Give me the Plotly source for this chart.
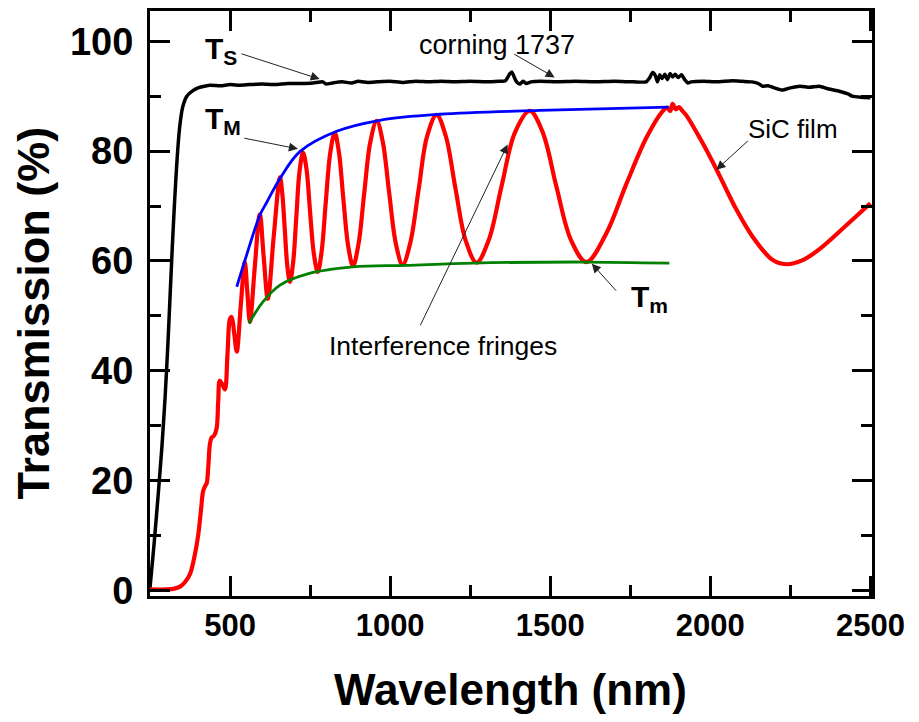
import plotly.graph_objects as go

# ---------------- data ----------------
glass_wl = [250, 262, 275, 287, 297, 306, 313, 320, 327, 334, 342, 352, 365, 384, 400, 420, 437,
            470, 500, 530, 560, 600, 640, 680, 720, 760, 790, 800, 820, 850, 880, 900, 930, 960, 1000,
            1040, 1080, 1120, 1160, 1200, 1250, 1300, 1340, 1360, 1373, 1380, 1388, 1395, 1405, 1415,
            1425, 1440, 1470, 1520, 1580, 1640, 1700, 1760, 1800, 1810, 1820, 1828, 1835, 1842, 1850,
            1858, 1866, 1874, 1882, 1890, 1900, 1910, 1920, 1930, 1940, 1980, 2020, 2069, 2100, 2130,
            2150, 2163, 2180, 2200, 2225, 2250, 2280, 2310, 2340, 2370, 2403, 2430, 2443, 2470, 2500]
glass_T = [0.5, 8, 17, 26, 35, 45, 54, 63, 71, 78, 84, 88, 90, 91, 91.5, 91.8, 92.0,
           91.9, 92.1, 92.0, 92.1, 92.2, 92.1, 92.3, 92.3, 92.4, 92.6, 92.2, 92.4, 92.6, 92.4, 92.7, 92.5, 92.6, 92.7,
           92.5, 92.7, 92.6, 92.7, 92.6, 92.7, 92.6, 92.7, 92.8, 94.0, 94.4, 93.4, 92.6, 92.2, 92.7,
           92.3, 92.6, 92.7, 92.6, 92.7, 92.6, 92.7, 92.6, 92.6, 93.3, 94.3, 93.8, 92.6, 93.9, 93.2,
           94.0, 93.0, 94.1, 93.5, 94.0, 93.4, 93.9, 93.0, 92.4, 92.6, 92.7, 92.6, 92.8, 92.7, 92.6,
           92.3, 91.8, 91.9, 91.5, 91.1, 91.5, 91.8, 91.6, 91.8, 91.3, 90.9, 90.4, 90.0, 89.8, 89.7]

film_wl = [250, 300, 323, 344, 359, 375, 390, 401, 409, 416, 422, 427, 432, 437, 442, 450, 458, 463, 468,
           476, 484, 492, 500, 505, 513, 521, 533, 546, 554, 562, 577, 593, 605, 618, 636, 656,
           663, 671, 679, 687, 697, 707, 717, 728, 739, 750, 762, 774, 786, 799, 813, 827, 840, 854,
           869, 884, 901, 919, 938, 958, 977, 997, 1018, 1039, 1063, 1089, 1115, 1145, 1174, 1204,
           1236, 1270, 1308, 1348, 1390, 1436, 1476, 1519, 1565, 1613, 1675, 1737, 1801,
           1850, 1865, 1875, 1882, 1892, 1902, 1913, 1925, 1966, 2019, 2045, 2081, 2131, 2194,
           2237, 2287, 2340, 2425, 2500]
film_T = [0.2, 0.2, 0.3, 0.7, 1.5, 3.0, 6.5, 10.3, 14.5, 18.1, 19.0, 19.5, 22.5, 26.6, 27.8, 28.2, 29.5, 34.4, 38.2,
          37.5, 36.6, 43, 49.5, 49.8, 46.8, 43.5, 51.5, 59.8, 54.3, 48.9, 58.7, 68.5, 60.8, 53.1, 64.2, 75.2,
          72.4, 65.7, 59.0, 56.2, 59.7, 68.0, 76.3, 79.7, 76.6, 68.9, 61.2, 58.0, 61.7, 70.7, 79.7, 83.3, 79.8, 71.2,
          62.7, 59.1, 63.0, 72.3, 81.6, 85.5, 81.7, 72.4, 63.1, 59.3, 63.3, 73.0, 82.6, 86.6, 82.7, 73.2,
          63.7, 59.7, 63.8, 73.6, 83.4, 87.3, 83.5, 73.6, 63.8, 59.8, 65.0, 73.9, 82.5,
          87.2, 87.9, 87.3, 88.6, 87.6, 88.0, 87.3, 86.5, 82.5, 76.7, 73.6, 69.4, 64.5, 60.2,
          59.4, 60.1, 62.1, 66.5, 70.5]

tmax_wl = [521, 546, 593, 615, 656, 718, 833, 968, 1155, 1467, 1870]
tmax_T = [55.3, 60.0, 68.3, 70.7, 75.0, 79.9, 83.6, 85.6, 86.7, 87.4, 88.0]

tmin_wl = [559, 602, 656, 740, 884, 1050, 1258, 1601, 1872]
tmin_T = [48.6, 52.5, 55.6, 57.6, 58.9, 59.2, 59.6, 59.8, 59.6]

x_ticks = [500, 1000, 1500, 2000, 2500]
y_ticks = [0, 20, 40, 60, 80, 100]

FONT = "Liberation Sans, Arial, sans-serif"

fig = go.Figure()
fig.add_trace(go.Scatter(x=glass_wl, y=glass_T, mode="lines",
                         line=dict(color="black", width=3.5, shape="spline", smoothing=0.5)))
fig.add_trace(go.Scatter(x=film_wl, y=film_T, mode="lines",
                         line=dict(color="#ff0000", width=4.2, shape="spline", smoothing=1)))
fig.add_trace(go.Scatter(x=tmax_wl, y=tmax_T, mode="lines",
                         line=dict(color="#0000ff", width=2.8, shape="spline", smoothing=1)))
fig.add_trace(go.Scatter(x=tmin_wl, y=tmin_T, mode="lines",
                         line=dict(color="#008000", width=2.8, shape="spline", smoothing=1)))

axis_common = dict(showline=True, linecolor="black", linewidth=3, mirror="ticks",
                   ticks="inside", ticklen=20, tickwidth=3, tickcolor="black",
                   showgrid=False, zeroline=False, layer="above traces")

fig.update_xaxes(range=[250, 2505], tickvals=x_ticks, ticktext=[str(v) for v in x_ticks],
                 tickfont=dict(family=FONT, size=31, color="black", weight="bold"),
                 minor=dict(ticks="inside", ticklen=11, tickwidth=3, tickcolor="black", dtick=250, tick0=250),
                 **axis_common)
fig.update_yaxes(range=[-1, 105.5], tickvals=y_ticks, ticktext=[str(v) for v in y_ticks],
                 tickfont=dict(family=FONT, size=38, color="black", weight="bold"),
                 ticklabelstandoff=6,
                 minor=dict(ticks="inside", ticklen=11, tickwidth=3, tickcolor="black", dtick=10, tick0=0),
                 **axis_common)

ann = []
# axis titles
ann.append(dict(text="<b>Wavelength (nm)</b>", xref="paper", yref="paper", x=(510 - 150) / 722, y=-(690 - 596) / 588,
                showarrow=False, xanchor="center", yanchor="middle",
                font=dict(family=FONT, size=44, color="black")))
ann.append(dict(text="<b>Transmission (%)</b>", xref="paper", yref="paper", x=-(150 - 33) / 722, y=(596 - 312) / 588,
                showarrow=False, xanchor="center", yanchor="middle", textangle=-90,
                font=dict(family=FONT, size=45, color="black")))

# labels
def label(text, x, y, size, bold=False):
    t = f"<b>{text}</b>" if bold else text
    ann.append(dict(text=t, x=x, y=y, xref="x", yref="y", showarrow=False,
                    xanchor="left", yanchor="middle", font=dict(family=FONT, size=size, color="black")))

label("T<sub>S</sub>", 414, 98.3, 30, bold=True)
label("T<sub>M</sub>", 414, 85.5, 30, bold=True)
label("T<sub>m</sub>", 1745, 53.2, 30, bold=True)
label("corning 1737", 1085, 99.3, 27)
label("SiC film", 2113, 84.0, 26)
label("Interference fringes", 802, 44.5, 26.5)

# arrows: (head_x, head_y, tail_x, tail_y)
def arrow(hx, hy, tx, ty):
    ann.append(dict(text="", x=hx, y=hy, ax=tx, ay=ty, xref="x", yref="y", axref="x", ayref="y",
                    showarrow=True, arrowhead=2, arrowsize=1.8, arrowwidth=1, arrowcolor="#222"))

arrow(780, 93.1, 531, 97.8)
arrow(1514, 93.4, 1383, 97.8)
arrow(712, 80.4, 540, 82.4)
arrow(2019, 76.6, 2122, 82.1)
arrow(1367, 81.2, 1092, 48.0)
arrow(1630, 59.5, 1710, 54.3)

fig.update_layout(width=919, height=722, margin=dict(l=150, r=47, t=8, b=126),
                  plot_bgcolor="white", paper_bgcolor="white", showlegend=False,
                  annotations=ann, font=dict(family=FONT))

fig.write_html("out.html")
